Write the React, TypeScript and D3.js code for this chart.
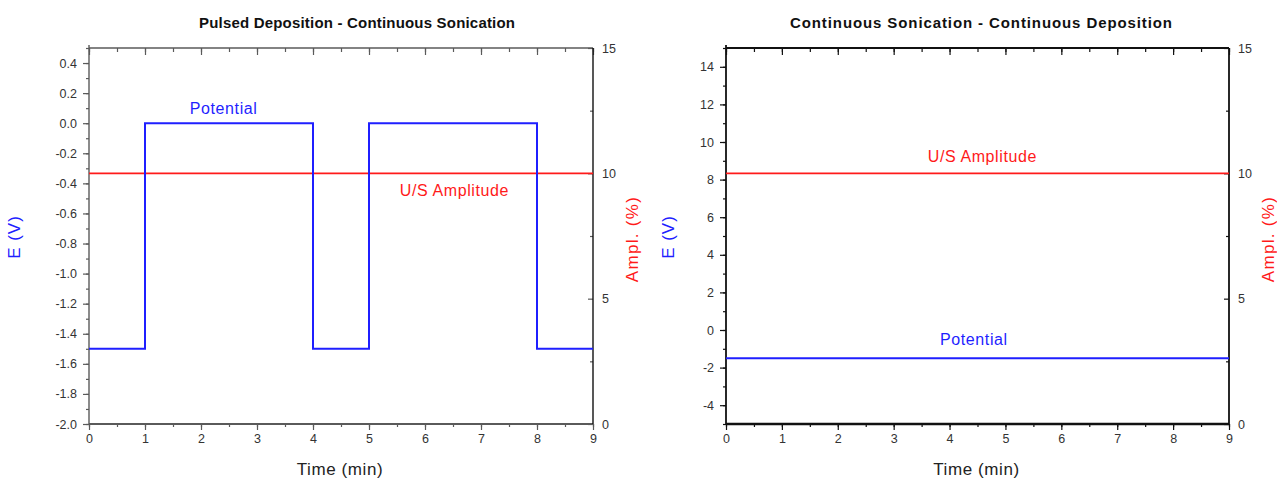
import { useEffect, useRef } from "react";
import * as d3 from "d3";

// Pulsed deposition: step potential vs time
const pulseTime = [0, 1, 1, 4, 4, 5, 5, 8, 8, 9];
const pulseE = [-1.5, -1.5, 0, 0, -1.5, -1.5, 0, 0, -1.5, -1.5];

// Continuous deposition
const contTime = [0, 9];
const contE = [-1.5, -1.5];

// Ultrasound amplitude (same in both)
const ampTime = [0, 9];
const ampValue = [10, 10];

const timeTicks = [0, 1, 2, 3, 4, 5, 6, 7, 8, 9];
const ampTicks = [0, 5, 10, 15];
const leftETicks = [-2.0, -1.8, -1.6, -1.4, -1.2, -1.0, -0.8, -0.6, -0.4, -0.2, 0.0, 0.2, 0.4];
const rightETicks = [-4, -2, 0, 2, 4, 6, 8, 10, 12, 14];

const BLUE = "#1f1fff";
const RED = "#ff1a1a";
const FONT = "'Liberation Sans', Arial, sans-serif";

interface PanelSpec {
    title: string;
    titleX: number;
    titleLen: number;
    left: number;
    right: number;
    eDomain: [number, number];
    eTicks: number[];
    eMinorCount: number;
    eFormat: string;
    time: number[];
    e: number[];
    axisColor: string;
    axisWidth: number;
    potLabel: [number, number];
    ampLabel: [number, number];
    eTitleX: number;
    ampTitleX: number;
}

const panels: PanelSpec[] = [
    {
        title: "Pulsed Deposition - Continuous Sonication",
        titleX: 357, titleLen: 316,
        left: 89, right: 593,
        eDomain: [-2.0, 0.5], eTicks: leftETicks, eMinorCount: 25, eFormat: ".1f",
        time: pulseTime, e: pulseE,
        axisColor: "#5a5a5a", axisWidth: 1.6,
        potLabel: [1.8, 0.06], ampLabel: [5.55, 9.1],
        eTitleX: 14, ampTitleX: 632,
    },
    {
        title: "Continuous Sonication - Continuous Deposition",
        titleX: 981, titleLen: 382,
        left: 726, right: 1229,
        eDomain: [-5, 15], eTicks: rightETicks, eMinorCount: 20, eFormat: "d",
        time: contTime, e: contE,
        axisColor: "#111", axisWidth: 2,
        potLabel: [3.83, -0.8], ampLabel: [3.61, 10.45],
        eTitleX: 668, ampTitleX: 1268,
    },
];

const TOP = 48;
const BOTTOM = 424;

// hyphen minus like the original
const fmt = (spec: string) => (d: any) => d3.format(spec)(d).replace("\u2212", "-");

export default function App() {
    const svgRef = useRef<SVGSVGElement | null>(null);

    useEffect(() => {
        document.body.style.margin = "0";
        const svg = d3.select(svgRef.current);
        svg.selectAll("*").remove();

        panels.forEach(p => {
            const g = svg.append("g");
            const x = d3.scaleLinear().domain([0, 9]).range([p.left, p.right]);
            const yE = d3.scaleLinear().domain(p.eDomain).range([BOTTOM, TOP]);
            const yA = d3.scaleLinear().domain([0, 15]).range([BOTTOM, TOP]);

            const styleAxis = (sel: any) => {
                sel.select(".domain").remove();
                sel.selectAll(".tick line").attr("stroke", p.axisColor).attr("stroke-width", 1.2);
                sel.selectAll(".tick text")
                    .attr("fill", "#333")
                    .style("font-family", FONT)
                    .style("font-size", "12.5px");
            };

            // minor ticks
            const xMinor = d3.range(0, 9.01, 0.5);
            g.append("g").attr("transform", `translate(0,${BOTTOM})`)
                .call(d3.axisBottom(x).tickValues(xMinor).tickSize(3).tickFormat(() => ""))
                .call(styleAxis);
            g.append("g").attr("transform", `translate(0,${TOP})`)
                .call(d3.axisBottom(x).tickValues(xMinor).tickSize(4).tickFormat(() => ""))
                .call(styleAxis);
            g.append("g").attr("transform", `translate(0,${TOP})`)
                .call(d3.axisBottom(x).tickValues(timeTicks).tickSize(7).tickFormat(() => ""))
                .call(styleAxis);
            g.append("g").attr("transform", `translate(${p.left},0)`)
                .call(d3.axisLeft(yE).tickValues(d3.ticks(p.eDomain[0], p.eDomain[1], p.eMinorCount)).tickSize(3).tickFormat(() => ""))
                .call(styleAxis);
            g.append("g").attr("transform", `translate(${p.right},0)`)
                .call(d3.axisLeft(yA).tickValues([2.5, 7.5, 12.5]).tickSize(3).tickFormat(() => ""))
                .call(styleAxis);

            // major ticks with labels
            g.append("g").attr("transform", `translate(0,${BOTTOM})`)
                .call(d3.axisBottom(x).tickValues(timeTicks).tickSize(6).tickPadding(4).tickFormat(fmt("d")))
                .call(styleAxis);
            g.append("g").attr("transform", `translate(${p.left},0)`)
                .call(d3.axisLeft(yE).tickValues(p.eTicks).tickSize(6).tickPadding(6).tickFormat(fmt(p.eFormat)))
                .call(styleAxis);
            const ra = g.append("g").attr("transform", `translate(${p.right},0)`)
                .call(d3.axisLeft(yA).tickValues(ampTicks).tickSize(5).tickFormat(fmt("d")))
                .call(styleAxis);
            ra.selectAll(".tick text").attr("x", 9).attr("text-anchor", "start");

            // frame
            const frame = g.append("g").attr("fill", "none");
            frame.append("line").attr("x1", p.left).attr("x2", p.right).attr("y1", TOP).attr("y2", TOP)
                .attr("stroke", p.axisColor).attr("stroke-width", p.axisWidth);
            frame.append("line").attr("x1", p.left).attr("x2", p.right).attr("y1", BOTTOM).attr("y2", BOTTOM)
                .attr("stroke", p.axisColor).attr("stroke-width", p.axisWidth + 0.4);
            frame.append("line").attr("x1", p.left).attr("x2", p.left).attr("y1", TOP - 3).attr("y2", BOTTOM)
                .attr("stroke", p.axisColor).attr("stroke-width", p.axisWidth - 0.2);
            frame.append("line").attr("x1", p.right).attr("x2", p.right).attr("y1", TOP).attr("y2", BOTTOM)
                .attr("stroke", "#111").attr("stroke-width", p.axisWidth - 0.2);

            // series
            const ampLine = d3.line<number>().x((_, i) => x(ampTime[i])).y(d => yA(d));
            g.append("path").attr("d", ampLine(ampValue)).attr("fill", "none")
                .attr("stroke", RED).attr("stroke-width", 1.8);
            const eLine = d3.line<number>().x((_, i) => x(p.time[i])).y(d => yE(d));
            g.append("path").attr("d", eLine(p.e)).attr("fill", "none")
                .attr("stroke", BLUE).attr("stroke-width", 2);

            // labels
            g.append("text").attr("x", x(p.potLabel[0])).attr("y", yE(p.potLabel[1]))
                .attr("fill", BLUE).style("font-family", FONT).style("font-size", "16px")
                .style("letter-spacing", "0.6px")
                .text("Potential");
            g.append("text").attr("x", x(p.ampLabel[0])).attr("y", yA(p.ampLabel[1]))
                .attr("fill", RED).style("font-family", FONT).style("font-size", "16px")
                .style("letter-spacing", "0.6px")
                .text("U/S Amplitude");

            // titles
            g.append("text").attr("x", p.titleX).attr("y", 28)
                .attr("text-anchor", "middle").attr("fill", "#111")
                .attr("textLength", p.titleLen).attr("lengthAdjust", "spacing")
                .style("font-family", FONT).style("font-size", "15px").style("font-weight", "bold")
                .text(p.title);
            g.append("text").attr("x", (p.left + p.right) / 2 - 1).attr("y", 475)
                .attr("text-anchor", "middle").attr("fill", "#222")
                .style("font-family", FONT).style("font-size", "17px").style("letter-spacing", "0.6px")
                .text("Time (min)");
            g.append("text").attr("transform", `translate(${p.eTitleX + 6},${237}) rotate(-90)`)
                .attr("text-anchor", "middle").attr("fill", BLUE)
                .style("font-family", FONT).style("font-size", "17px").style("letter-spacing", "1px")
                .text("E (V)");
            g.append("text").attr("transform", `translate(${p.ampTitleX + 6},${239}) rotate(-90)`)
                .attr("text-anchor", "middle").attr("fill", RED)
                .style("font-family", FONT).style("font-size", "17px").style("letter-spacing", "1.3px")
                .text("Ampl. (%)");
        });
    }, []);

    return <svg ref={svgRef} width={1277} height={479} style={{ display: "block", background: "#fff" }} />;
}
